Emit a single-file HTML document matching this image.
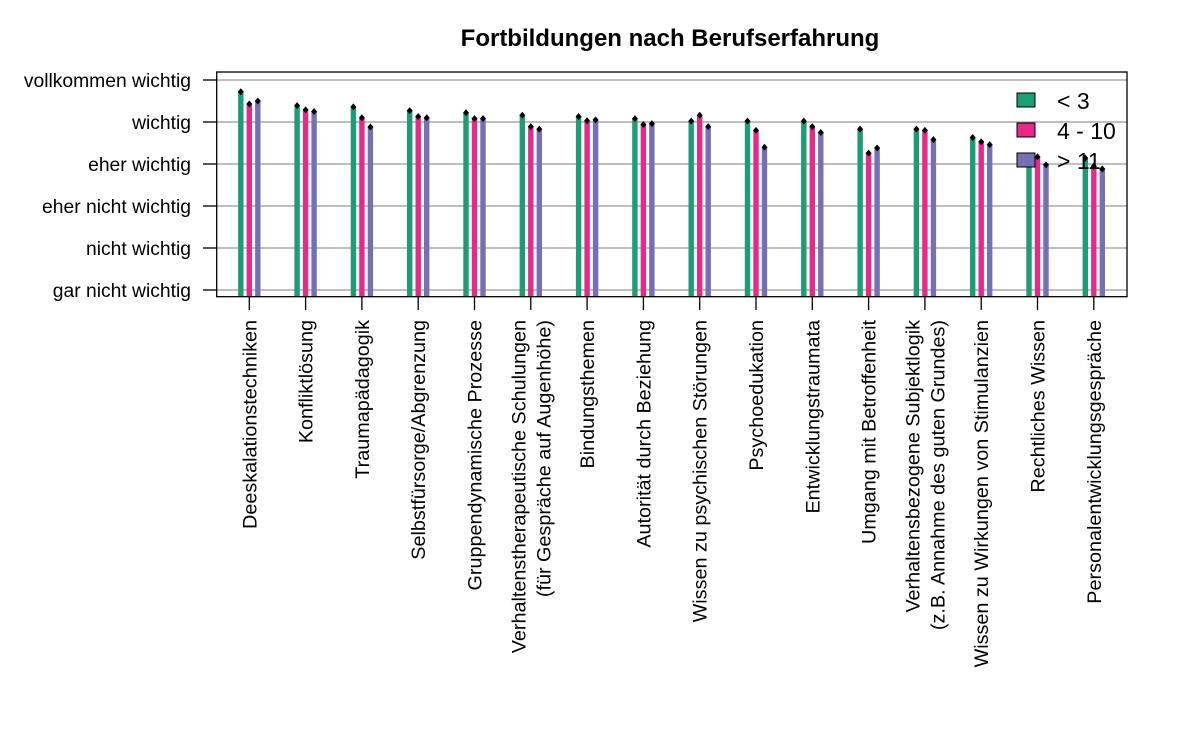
<!DOCTYPE html>
<html><head><meta charset="utf-8"><style>body{margin:0;background:#fff}svg{display:block;font-family:"Liberation Sans",Arial,sans-serif}</style></head>
<body>
<svg id="chart" width="1200" height="730" xmlns="http://www.w3.org/2000/svg"></svg>
<script>
const categories=["Deeskalationstechniken","Konfliktlösung","Traumapädagogik","Selbstfürsorge/Abgrenzung","Gruppendynamische Prozesse","Verhaltenstherapeutische Schulungen\n(für Gespräche auf Augenhöhe)","Bindungsthemen","Autorität durch Beziehung","Wissen zu psychischen Störungen","Psychoedukation","Entwicklungstraumata","Umgang mit Betroffenheit","Verhaltensbezogene Subjektlogik\n(z.B. Annahme des guten Grundes)","Wissen zu Wirkungen von Stimulanzien","Rechtliches Wissen","Personalentwicklungsgespräche"];
const seriesNames=["< 3","4 - 10","> 11"];
const seriesLow=[5.72,5.39,5.36,5.27,5.22,5.16,5.13,5.08,5.02,5.02,5.02,4.83,4.83,4.63,4.17,4.14];
const seriesMid=[5.43,5.29,5.10,5.13,5.08,4.89,5.03,4.94,5.16,4.80,4.89,4.26,4.80,4.53,4.17,3.95];
const seriesHigh=[5.50,5.25,4.88,5.10,5.08,4.83,5.05,4.96,4.89,4.40,4.75,4.38,4.58,4.46,3.98,3.88];
const yTickLabels=["gar nicht wichtig","nicht wichtig","eher nicht wichtig","eher wichtig","wichtig","vollkommen wichtig"];
const colors=["#1b9e77","#e7298a","#7570b3"];
const NS="http://www.w3.org/2000/svg",svg=document.getElementById('chart');
function mk(t,a,p){const e=document.createElementNS(NS,t);for(const k in a)e.setAttribute(k,a[k]);(p||svg).appendChild(e);return e;}
const L=216.7,R=1127,T=72,B=296.7;
const y=v=>290-(v-1)*42;
const x=i=>249.3+i*56.3;
let t=mk('text',{x:670,y:46,'text-anchor':'middle','font-size':24,'font-weight':'bold'});t.textContent="Fortbildungen nach Berufserfahrung";

yTickLabels.forEach((lab,i)=>{const yy=y(i+1);
 let g=mk('line',{x1:L,x2:R,y1:yy,y2:yy,stroke:'#999','stroke-width':1.3});
 
 let tk=mk('line',{x1:203,x2:L,y1:yy,y2:yy,stroke:'#000','stroke-width':1.3});
 
 let tx=mk('text',{x:191,y:yy+7,'text-anchor':'end','font-size':19.3});tx.textContent=lab;
 
});
const all=[seriesLow,seriesMid,seriesHigh];
categories.forEach((c,i)=>{const cx=x(i);
 all.forEach((s,j)=>{const bx=cx+(j-1)*8.5,top=y(s[i]);
  let r=mk('rect',{x:bx-2.7,y:top,width:5.4,height:B-top,fill:colors[j]});
  
  let d=mk('path',{d:`M${bx} ${top-3.5}L${bx+3} ${top}L${bx} ${top+3.5}L${bx-3} ${top}Z`,fill:'#000'});
  
 });
 let tk=mk('line',{x1:cx,x2:cx,y1:B,y2:310,stroke:'#000','stroke-width':1.3});
 
 const lines=c.split('\n');
 lines.forEach((ln,k)=>{const lx=cx+7+(k-(lines.length-1)/2)*25;
  let tx=mk('text',{x:lx,y:320,'text-anchor':'end','font-size':19.8,transform:`rotate(-90 ${lx} 320)`});tx.textContent=ln;
  
 });
});
let box=mk('rect',{x:L,y:T,width:R-L,height:B-T,fill:'none',stroke:'#000','stroke-width':1.3});

seriesNames.forEach((n,j)=>{const ly=93+j*30;
 let s=mk('rect',{x:1017,y:ly,width:18,height:14,fill:colors[j],stroke:'#000','stroke-width':1});
 
 let tx=mk('text',{x:1057,y:ly+16,'font-size':23});tx.textContent=n;
 
});
</script>
</body></html>
